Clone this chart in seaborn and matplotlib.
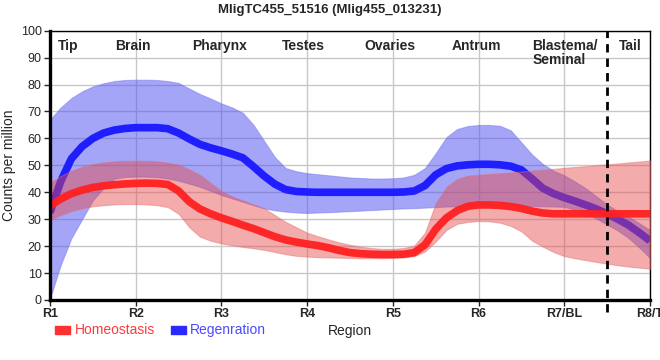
import matplotlib
matplotlib.use("Agg")
import matplotlib.pyplot as plt
import pandas as pd
import seaborn as sns

# Positions along the body (0 = R1 ... 7 = R8/T), read every eighth of a region
pos = [k / 8 for k in range(57)]

# Homeostasis (red)
homeo_mean = [35, 37.5, 39.5, 40.8, 41.8, 42.4, 42.8, 43.1,
              43.3, 43.4, 43.3, 42.9, 40.5, 36.5, 33.8, 32,
              30.5, 29.2, 27.8, 26.5, 25, 23.5, 22.3, 21.5,
              20.8, 20.2, 19.4, 18.4, 17.6, 17.2, 17, 16.9,
              16.9, 17, 17.6, 20.5, 26.3, 30.5, 33.2, 34.8,
              35.3, 35.3, 35.1, 34.7, 34, 33, 32.3, 32,
              32, 32, 32, 32, 32, 32, 32, 32,
              32]
homeo_upper = [43.5, 46, 48, 49.5, 50.5, 51.1, 51.5, 51.7,
               51.7, 51.7, 51.5, 51, 50.3, 48.5, 46.5, 43.5,
               40.5, 38.5, 37, 35.5, 34, 31.5, 29, 27,
               25, 23.7, 22.5, 21.4, 20.5, 19.8, 19.3, 19,
               19, 19.3, 20.2, 25, 36, 42, 45, 46.2,
               46.5, 46.8, 47.1, 47.4, 47.7, 48.1, 48.4, 48.7,
               49.1, 49.4, 49.7, 50.1, 50.4, 50.7, 51.1, 51.4,
               51.8]
homeo_lower = [29.7, 31.5, 33, 34, 34.8, 35.2, 35.5, 35.6,
               35.6, 35.5, 35.2, 34.5, 32, 27, 23.5, 22,
               21, 20.3, 19.7, 19.2, 18.6, 17.8, 17, 16.4,
               16.1, 15.9, 15.8, 15.7, 15.6, 15.5, 15.5, 15.5,
               15.6, 15.8, 16.3, 18, 21.7, 26, 28.3, 29,
               29.3, 29.2, 28.7, 27.5, 25.5, 22, 19.8, 17.8,
               16.3, 15.5, 14.8, 14.1, 13.5, 12.9, 12.4, 12,
               11.6]

# Regeneration (blue)
regen_mean = [32.5, 44, 52.5, 57, 60, 62, 63.1, 63.7,
              64, 64, 64, 63.6, 62, 59.8, 57.8, 56.5,
              55.4, 54.2, 52.8, 49.5, 46, 43, 41, 40.3,
              40.1, 40, 40, 40, 40, 40, 40, 40,
              40, 40.1, 40.5, 42.5, 46.5, 48.8, 49.8, 50.2,
              50.4, 50.4, 50.2, 49.7, 48.3, 45, 41.5, 39.5,
              38, 36.7, 35.3, 33.8, 32, 30, 27.8, 25,
              22]
regen_upper = [67, 71.5, 75, 77.5, 79.3, 80.5, 81.3, 81.7,
               81.8, 81.8, 81.7, 81.3, 80.6, 78.5, 76.5, 74.8,
               73, 71.5, 69.5, 65, 59, 53, 49, 47.8,
               47.1, 46.7, 46.3, 45.9, 45.5, 45.3, 45.1, 45.1,
               45.2, 45.5, 46.5, 49, 54.5, 60.5, 63.5, 64.6,
               65, 65, 64.7, 63, 58.5, 54, 50.5, 48,
               46.3, 44, 41.5, 38.5, 35.4, 33, 31, 28.5,
               26]
regen_lower = [0.5, 13, 23, 30, 37, 41.5, 45, 45.7,
               45.8, 45.8, 45.6, 45.1, 44.3, 43.2, 42, 40.5,
               39, 37.7, 36.5, 35.2, 34, 33.3, 32.8, 32.5,
               32.3, 32.5, 32.6, 32.8, 33, 33.2, 33.4, 33.6,
               33.8, 34, 34.1, 34.3, 34.5, 34.7, 34.8, 35,
               35.2, 35.2, 35.2, 35.1, 35, 34.9, 34.8, 34.7,
               34.6, 33.5, 32, 30.2, 28, 25.8, 23, 19.5,
               15.6]

region_ticks = ["R1", "R2", "R3", "R4", "R5", "R6", "R7/BL", "R8/T"]
tissues = ["Tip", "Brain", "Pharynx", "Testes", "Ovaries", "Antrum", "Blastema/\nSeminal", "Tail"]
tissue_pos = [0.21, 0.97, 1.98, 2.96, 3.97, 4.97, 5.63, 6.77]

df = pd.DataFrame({
    "pos": pos * 2,
    "cpm": homeo_mean + regen_mean,
    "cond": ["Homeostasis"] * len(pos) + ["Regenration"] * len(pos),
})

sns.set_style("white")
plt.rcParams["font.family"] = ["Liberation Sans", "DejaVu Sans"]

fig = plt.figure(figsize=(6.6, 3.6), dpi=100)
ax = fig.add_axes([50 / 660, 1 - 300 / 360, 600 / 660, 269.3 / 360])

red = "#ff2020"
blue = "#1e1eff"

# blue first, red drawn over it
ax.fill_between(pos, regen_lower, regen_upper, color="#4d4df2", alpha=0.5, lw=0.8,
                edgecolor="#7777ee", zorder=2)
sns.lineplot(data=df[df.cond == "Regenration"], x="pos", y="cpm", color=blue, lw=5.5,
             ax=ax, zorder=3, legend=False, solid_joinstyle="round", solid_capstyle="butt")
ax.fill_between(pos, homeo_lower, homeo_upper, color="#e64646", alpha=0.45, lw=0.8,
                edgecolor="#e07070", zorder=4)
sns.lineplot(data=df[df.cond == "Homeostasis"], x="pos", y="cpm", color=red, lw=5.5,
             ax=ax, zorder=5, legend=False, alpha=0.95, solid_joinstyle="round",
             solid_capstyle="butt")

ax.set_xlim(0, 7)
ax.set_ylim(0, 100)
ax.set_xticks(range(8))
ax.set_xticklabels(region_ticks, fontsize=9, fontweight="bold")
ax.set_yticks(range(0, 101, 10))
ax.tick_params(axis="y", labelsize=9, length=4, width=1, direction="out", left=True, pad=2)
ax.tick_params(axis="x", length=4, width=1, direction="out", bottom=True, pad=2)
ax.grid(True, color="#c8c8c8", lw=1)
ax.set_axisbelow(True)

for side in ["top", "right"]:
    ax.spines[side].set_linewidth(1)
    ax.spines[side].set_color("black")
for side in ["left", "bottom"]:
    ax.spines[side].set_linewidth(2.4)
    ax.spines[side].set_color("black")
    ax.spines[side].set_zorder(10)

# blastema / tail boundary
ax.axvline(6.5, ymin=-0.045, ymax=1, color="black", ls=(0, (3, 2.2)), lw=2, clip_on=False, zorder=9)

for t, p in zip(tissues, tissue_pos):
    ax.text(p, 97, t, ha="center" if "\n" not in t else "left", va="top", fontsize=10,
            fontweight="bold", linespacing=1.0)

fig.text(0.5, 1 - 10 / 360, "MligTC455_51516 (Mlig455_013231)", fontsize=9.5,
         fontweight="bold", ha="center", va="center")
ax.set_ylabel("Counts per million", fontsize=10)
ax.yaxis.set_label_coords(-34 / 600, 0.5)
ax.set_xlabel("")

fig.text(350 / 660, 1 - 331 / 360, "Region", fontsize=10, ha="center", va="center")

# legend
fig.patches.append(plt.Rectangle((55 / 660, 1 - 334 / 360), 15 / 660, 8 / 360,
                                 transform=fig.transFigure, color="#ff3030", figure=fig))
fig.text(75 / 660, 1 - 330 / 360, "Homeostasis", color="#ff3a3a", fontsize=10, va="center")
fig.patches.append(plt.Rectangle((171 / 660, 1 - 334 / 360), 15 / 660, 8 / 360,
                                 transform=fig.transFigure, color="#2a2aff", figure=fig))
fig.text(190 / 660, 1 - 330 / 360, "Regenration", color="#4a4aff", fontsize=10, va="center")

fig.savefig("out.png", dpi=100)
